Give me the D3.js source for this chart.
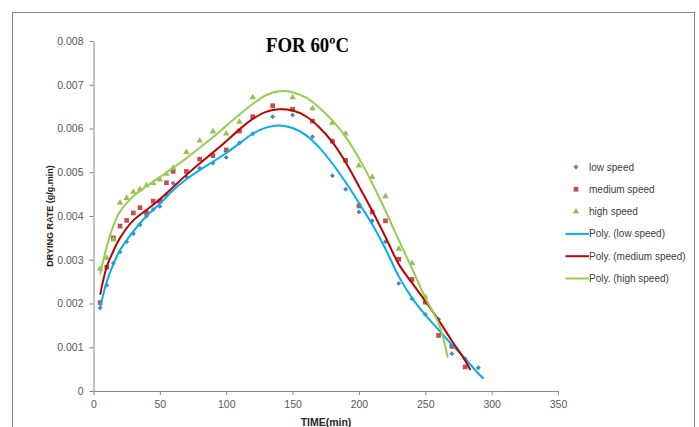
<!DOCTYPE html>
<meta charset="utf-8">
<html>
<head>
<title>drying rate 60C</title>
<script src="https://d3js.org/d3.v7.min.js"></script>
<style>
    body{ margin:0; background:#fff; }
    .tick text{ font-family:"Liberation Sans", Arial, sans-serif; font-size:10.5px; fill:#595959; }
    .domain, .tick line{ stroke:#868686; }
</style>
</head>
<body>
<div class="chart"></div>
<script>
// measured points (time in min, drying rate in g/g.min)
var lowTime = [5,10,15,20,25,30,35,40,45,50,55,60,70,80,90,100,110,120,135,150,165,180,190,200,210,220,230,240,250,260,270,280,290];
var lowRate = [0.0019,0.00242,0.00292,0.00318,0.00341,0.0036,0.0038,0.004,0.00415,0.00422,0.00449,0.00475,0.0049,0.00509,0.00521,0.00534,0.00567,0.00588,0.00627,0.00631,0.00581,0.00492,0.00461,0.00409,0.00389,0.00341,0.00246,0.00211,0.00175,0.00164,0.00085,0.00074,0.00053];

var medTime = [5,10,15,20,25,30,35,40,45,50,55,60,70,80,90,100,110,120,135,150,165,180,190,200,210,220,230,240,250,260,270,280];
var medRate = [0.00202,0.00283,0.0035,0.00377,0.0039,0.00407,0.00419,0.00407,0.00434,0.00434,0.00476,0.00502,0.00502,0.0053,0.00538,0.00551,0.00594,0.00627,0.00652,0.00644,0.00617,0.00571,0.00527,0.00423,0.00409,0.00389,0.00301,0.00255,0.00203,0.00127,0.00102,0.00055];

var highTime = [5,10,15,20,25,30,35,40,45,50,55,60,70,80,90,100,110,120,150,165,180,190,200,210,220,230,240,250];
var highRate = [0.00279,0.00304,0.00346,0.0043,0.00441,0.00455,0.00461,0.0047,0.00475,0.00483,0.00496,0.0051,0.00546,0.00572,0.00593,0.00588,0.00615,0.00671,0.00671,0.00646,0.00613,0.00588,0.00515,0.00489,0.00445,0.00325,0.00292,0.00215];

// poly trendlines
var lowFitTime = [5,10,15,20,30,40,50,60,70,80,90,100,110,120,130,140,150,160,170,180,190,200,210,220,230,240,250,260,270,280,290,294];
var lowFitRate = [0.0019,0.0025,0.0029,0.00322,0.00365,0.004,0.00428,0.00459,0.00484,0.00505,0.00524,0.00544,0.00566,0.00588,0.00602,0.00607,0.00601,0.00585,0.00557,0.0052,0.00477,0.0043,0.00381,0.00325,0.00262,0.00213,0.00174,0.0014,0.00106,0.00074,0.0004,0.00028];

var medFitTime = [5,10,15,20,30,40,50,60,70,80,90,100,110,120,130,140,150,160,170,180,190,200,210,220,230,240,250,260,270,280,284];
var medFitRate = [0.0022,0.00284,0.0032,0.0035,0.0039,0.00414,0.00438,0.00466,0.00494,0.0052,0.00545,0.00571,0.00598,0.00622,0.00638,0.00644,0.00641,0.00628,0.00603,0.00569,0.00523,0.00468,0.00412,0.00352,0.0029,0.00247,0.00206,0.00162,0.00115,0.0007,0.00048];

var highFitTime = [5,10,15,20,30,40,50,60,70,80,90,100,110,120,130,140,150,160,170,180,190,200,210,220,230,240,250,260,267];
var highFitRate = [0.00267,0.0033,0.00378,0.0041,0.00445,0.00468,0.00489,0.0051,0.00532,0.00556,0.0058,0.00606,0.00632,0.00656,0.00676,0.00685,0.00683,0.00671,0.00648,0.00618,0.00581,0.00532,0.00475,0.00412,0.00345,0.0028,0.00213,0.00155,0.00076];

var xTicks = [0,50,100,150,200,250,300,350];
var yTicks = [0,0.001,0.002,0.003,0.004,0.005,0.006,0.007,0.008];

var seriesNames = ["low speed","medium speed","high speed"];
var markColors = ["#4f81bd","#c0504d","#9bbb59"];
var lineColors = ["#00b0f0","#c00000","#92d050"];
var symbols = [d3.symbolSquare, d3.symbolSquare, d3.symbolTriangle];
var symSize = [12, 22, 18];
var symRotate = [45, 0, 0];

var W = 699, H = 427;
var svg = d3.select(".chart").append("svg")
    .attr("width", W)
    .attr("height", H);

// chart frame
svg.append("rect")
    .attr("x", 12.5).attr("y", 12.5)
    .attr("width", 682).attr("height", 440)
    .style("fill", "none")
    .style("stroke", "#868686");

var x = d3.scaleLinear().domain([0,350]).range([93.5,558]);
var y = d3.scaleLinear().domain([0,0.008]).range([391,41]);

svg.append("g")
    .attr("transform", "translate(0,391)")
    .call(d3.axisBottom(x).tickValues(xTicks).tickSize(4).tickPadding(6).tickSizeOuter(0));

svg.append("g")
    .attr("transform", "translate(93.5,0)")
    .call(d3.axisLeft(y).tickValues(yTicks).tickSize(4).tickPadding(6).tickSizeOuter(0)
        .tickFormat(function(d){ return d === 0 ? "0" : d3.format(".3f")(d); }));

// title + axis titles
svg.append("text")
    .attr("x", 266).attr("y", 52)
    .attr("textLength", 83).attr("lengthAdjust", "spacingAndGlyphs")
    .style("font-family", "'Liberation Serif', 'Times New Roman', serif")
    .style("font-weight", "bold")
    .style("font-size", "21px")
    .text("FOR 60ºC");

svg.append("text")
    .attr("x", 326).attr("y", 426)
    .style("text-anchor", "middle")
    .style("font-family", "'Liberation Sans', Arial, sans-serif")
    .style("font-weight", "bold")
    .style("font-size", "10.5px")
    .style("fill", "#262626")
    .text("TIME(min)");

svg.append("text")
    .attr("transform", "translate(53,216) rotate(-90)")
    .style("text-anchor", "middle")
    .style("font-family", "'Liberation Sans', Arial, sans-serif")
    .style("font-weight", "bold")
    .style("font-size", "9px")
    .style("fill", "#262626")
    .text("DRYING RATE (g/g.min)");

var points = [
    d3.zip(lowTime, lowRate),
    d3.zip(medTime, medRate),
    d3.zip(highTime, highRate)
];
var fits = [
    d3.zip(lowFitTime, lowFitRate),
    d3.zip(medFitTime, medFitRate),
    d3.zip(highFitTime, highFitRate)
];

points.forEach(function(pts, k){
    svg.append("g").selectAll("path")
        .data(pts).enter()
        .append("path")
        .attr("d", d3.symbol().type(symbols[k]).size(symSize[k]))
        .attr("transform", function(d){ return "translate(" + x(d[0]) + "," + y(d[1]) + ") rotate(" + symRotate[k] + ")"; })
        .style("fill", markColors[k]);
});

var line = d3.line()
    .x(function(d){ return x(d[0]); })
    .y(function(d){ return y(d[1]); })
    .curve(d3.curveCatmullRom);

fits.forEach(function(f, k){
    svg.append("path")
        .datum(f)
        .attr("d", line)
        .style("fill", "none")
        .style("stroke", lineColors[k])
        .style("stroke-width", 2);
});

// legend
var legendX = 576, legendY = 167, legendStep = 22.3;
var lg = svg.append("g")
    .style("font-family", "'Liberation Sans', Arial, sans-serif")
    .style("font-size", "10px")
    .style("fill", "#404040");

seriesNames.forEach(function(name, k){
    var yy = legendY + k*legendStep;
    lg.append("path")
        .attr("d", d3.symbol().type(symbols[k]).size(symSize[k]))
        .attr("transform", "translate(" + legendX + "," + yy + ") rotate(" + symRotate[k] + ")")
        .style("fill", markColors[k]);
    lg.append("text")
        .attr("x", 589).attr("y", yy + 3.5)
        .text(name);
});

seriesNames.forEach(function(name, k){
    var yy = legendY + (k+3)*legendStep;
    lg.append("line")
        .attr("x1", 565.5).attr("x2", 589)
        .attr("y1", yy).attr("y2", yy)
        .style("stroke", lineColors[k])
        .style("stroke-width", 2);
    lg.append("text")
        .attr("x", 589).attr("y", yy + 3.5)
        .text("Poly. (" + name + ")");
});
</script>
</body>
</html>
